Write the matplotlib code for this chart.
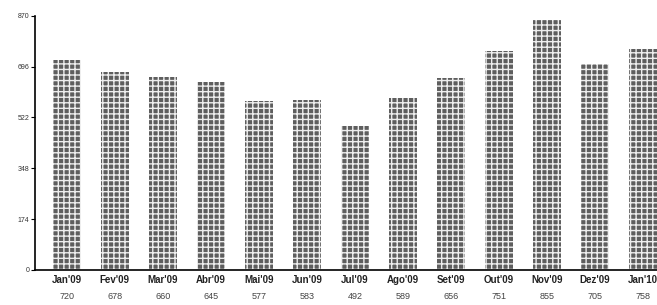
import numpy as np
import matplotlib.pyplot as plt

months = ["Jan'09", "Fev'09", "Mar'09", "Abr'09", "Mai'09", "Jun'09", "Jul'09",
          "Ago'09", "Set'09", "Out'09", "Nov'09", "Dez'09", "Jan'10"]
values = [720, 678, 660, 645, 577, 583, 492, 589, 656, 751, 855, 705, 758]
y_ticks = [0, 174, 348, 522, 696, 870]

plt.rcParams["font.family"] = ["Liberation Sans", "DejaVu Sans"]
plt.rcParams["hatch.linewidth"] = 1.0
plt.rcParams["hatch.color"] = "#eeeeee"

fig = plt.figure(figsize=(6.57, 3.05), dpi=100)
ax = fig.add_axes([0.053, 0.115, 0.947, 0.833])

x = np.arange(len(months))
# dotted grid look of the scanned bars
ax.bar(x, values, width=0.58, color="#5e5e5e", hatch="+++", edgecolor="#eeeeee",
       linewidth=0, zorder=2)

ax.set_xlim(-0.667, 12.29)
ax.set_ylim(0, 870)
ax.set_yticks(y_ticks)
ax.set_yticklabels([str(t) for t in y_ticks], fontsize=5, color="#333333")
ax.tick_params(axis="y", length=3, width=0.8, pad=1)

ax.set_xticks(x)
ax.set_xticklabels(months, fontsize=7, fontweight="bold", color="#222222")
ax.tick_params(axis="x", length=0, pad=4)

for xi, v in zip(x, values):
    ax.text(xi, -0.088, str(v), transform=ax.get_xaxis_transform(),
            ha="center", va="top", fontsize=6.5, color="#444444")

ax.spines["top"].set_visible(False)
ax.spines["right"].set_visible(False)
ax.spines["left"].set_linewidth(1.2)
ax.spines["bottom"].set_linewidth(1.2)

fig.savefig("out.png", dpi=100, facecolor="white")
